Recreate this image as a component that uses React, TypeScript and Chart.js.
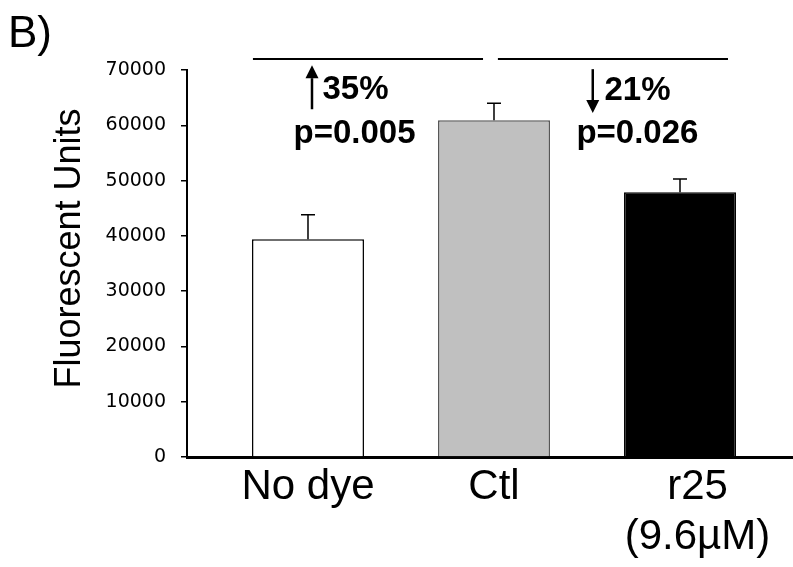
import React, { useEffect, useRef } from 'react';
import { Chart, registerables } from 'chart.js';

Chart.register(...registerables);

// ---- data ----
const categoryLabels: string[][] = [['No dye'], ['Ctl'], ['\u00a0\u00a0\u00a0r25', '\u00a0\u00a0\u00a0(9.6\u00b5M)']];
const meanValues = [39400, 60900, 47900];
const errorValues = [4400, 3100, 2400];
const barFills = ['#ffffff', '#c0c0c0', '#000000'];
const barBorders = ['#000000', '#555555', '#000000'];
const yMin = 0;
const yMax = 70000;
const yStep = 10000;

// ---- annotations (data coordinates: x = category index, y = value) ----
const sigLines = [
  { x0: -0.296, x1: 0.941, y: 72000 },
  { x0: 1.021, x1: 2.258, y: 72000 },
];
const arrows = [
  { x: 0.0215, tail: 62900, tip: 70870 },
  { x: 1.531, tail: 70150, tip: 62200 },
];
const annotTexts = [
  { text: '35%', x: 0.078, y: 64730 },
  { text: 'p=0.005', x: -0.078, y: 56770 },
  { text: '21%', x: 1.594, y: 64550 },
  { text: 'p=0.026', x: 1.443, y: 56770 },
];

const errorBarPlugin = {
  id: 'errorBars',
  afterDatasetsDraw(chart: any) {
    const ctx = chart.ctx;
    const y = chart.scales.y;
    const meta = chart.getDatasetMeta(0);
    ctx.save();
    ctx.strokeStyle = '#000';
    ctx.lineWidth = 1.5;
    meta.data.forEach((bar: any, i: number) => {
      const top = y.getPixelForValue(meanValues[i]);
      const errTop = y.getPixelForValue(meanValues[i] + errorValues[i]);
      ctx.beginPath();
      ctx.moveTo(bar.x, top);
      ctx.lineTo(bar.x, errTop);
      ctx.moveTo(bar.x - 7, errTop);
      ctx.lineTo(bar.x + 7, errTop);
      ctx.stroke();
    });
    ctx.restore();
  },
};

const annotationPlugin = {
  id: 'annotations',
  afterDraw(chart: any) {
    const ctx = chart.ctx;
    const xs = chart.scales.x;
    const ys = chart.scales.y;
    ctx.save();
    ctx.strokeStyle = '#000';
    ctx.fillStyle = '#000';
    // significance lines
    ctx.lineWidth = 2;
    sigLines.forEach((l) => {
      const py = ys.getPixelForValue(l.y);
      ctx.beginPath();
      ctx.moveTo(xs.getPixelForValue(l.x0), py);
      ctx.lineTo(xs.getPixelForValue(l.x1), py);
      ctx.stroke();
    });
    // arrows
    arrows.forEach((a) => {
      const px = xs.getPixelForValue(a.x);
      const pTail = ys.getPixelForValue(a.tail);
      const pTip = ys.getPixelForValue(a.tip);
      const dir = pTip < pTail ? -1 : 1;
      const headLen = 13;
      const half = 6.5;
      const base = pTip - dir * headLen;
      ctx.lineWidth = 2.5;
      ctx.beginPath();
      ctx.moveTo(px, pTail);
      ctx.lineTo(px, base);
      ctx.stroke();
      ctx.beginPath();
      ctx.moveTo(px, pTip);
      ctx.lineTo(px - half, base);
      ctx.lineTo(px + half, base);
      ctx.closePath();
      ctx.fill();
    });
    // texts
    ctx.font = 'bold 33px "Liberation Sans", Arial, sans-serif';
    ctx.textAlign = 'left';
    ctx.textBaseline = 'alphabetic';
    annotTexts.forEach((t) => {
      ctx.fillText(t.text, xs.getPixelForValue(t.x), ys.getPixelForValue(t.y));
    });
    // panel letter
    ctx.font = '44px "Liberation Sans", Arial, sans-serif';
    ctx.fillText('B)', 8, 47);
    ctx.restore();
  },
};

export default function App() {
  const canvasRef = useRef<HTMLCanvasElement | null>(null);

  useEffect(() => {
    if (!canvasRef.current) return;
    const chart = new Chart(canvasRef.current, {
      type: 'bar',
      data: {
        datasets: [
          {
            data: meanValues.map((v, i) => ({ x: i, y: v })),
            backgroundColor: barFills,
            borderColor: barBorders,
            borderWidth: 1.5,
            barPercentage: 0.602,
            categoryPercentage: 1,
          } as any,
        ],
      },
      options: {
        animation: false,
        responsive: false,
        layout: { padding: { top: 70, left: 0, right: 0, bottom: 0 } },
        plugins: {
          legend: { display: false },
          tooltip: { enabled: false },
        },
        scales: {
          x: {
            type: 'linear',
            min: -0.6505,
            max: 2.6075,
            offset: false,
            grid: { display: false, drawTicks: false, tickLength: 0 },
            border: { display: true, color: '#000', width: 3 },
            afterBuildTicks: (s: any) => {
              s.ticks = categoryLabels.map((_, i) => ({ value: i }));
            },
            afterFit: (s: any) => {
              s.height = 110;
            },
            ticks: {
              autoSkip: false,
              maxRotation: 0,
              minRotation: 0,
              padding: 5,
              color: '#000',
              font: { family: '"Liberation Sans", Arial, sans-serif', size: 42, lineHeight: 1.2 },
              callback: (v: any) => categoryLabels[Math.round(Number(v))] ?? '',
            },
          },
          y: {
            type: 'linear',
            min: yMin,
            max: yMax,
            afterFit: (s: any) => {
              s.width = 187;
            },
            grid: { drawOnChartArea: false, drawTicks: true, tickLength: 6, color: '#000', lineWidth: 1.5 },
            border: { display: true, color: '#000', width: 2 },
            ticks: {
              stepSize: yStep,
              padding: 15,
              color: '#000',
              font: { family: '"DejaVu Sans", sans-serif', size: 19 },
              callback: (v: any) => String(v),
            },
            title: {
              display: true,
              text: '\u00a0\u00a0\u00a0Fluorescent Units',
              color: '#000',
              font: { family: '"Liberation Sans", Arial, sans-serif', size: 36, lineHeight: 1.2 },
              padding: { top: 48, bottom: 0 },
            },
          },
        },
      } as any,
      plugins: [errorBarPlugin, annotationPlugin],
    });
    return () => chart.destroy();
  }, []);

  return (
    <div style={{ position: 'fixed', left: 0, top: 0, width: 793, height: 567, background: '#fff' }}>
      <canvas ref={canvasRef} width={793} height={567} style={{ display: 'block', width: 793, height: 567 }} />
    </div>
  );
}
